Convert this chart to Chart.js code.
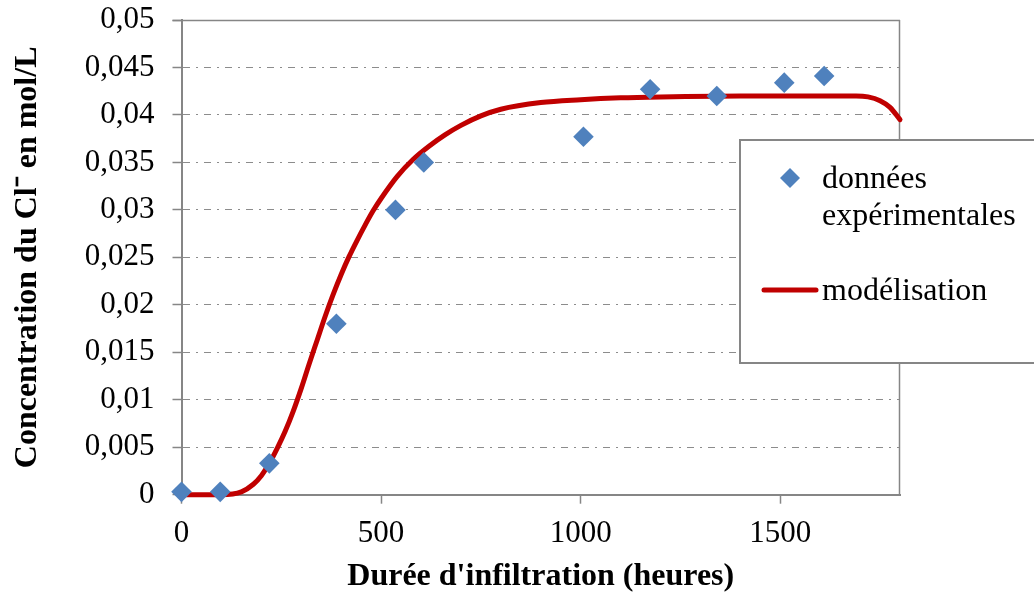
<!DOCTYPE html>
<html>
<head>
<meta charset="utf-8">
<script src="https://cdn.jsdelivr.net/npm/chart.js@4/dist/chart.umd.min.js"></script>
<style>
  html, body { margin: 0; padding: 0; background: #ffffff; }
  #wrap { width: 1034px; height: 594px; }
</style>
</head>
<body>
<div id="wrap"><canvas id="c" width="1034" height="594"></canvas></div>
<script>
// ---- data ----
const seriesNames = ['données expérimentales', 'modélisation'];
const expHours = [0, 97, 220, 388, 536, 607, 1007, 1174, 1341, 1510, 1610];
const expConc  = [0.0003, 0.0003, 0.0033, 0.018, 0.0300, 0.0350, 0.0377, 0.0427, 0.0420, 0.0434, 0.0441];
const modelHours = [0, 50, 100, 150, 180, 200, 220, 240, 260, 280, 300, 320, 340, 360, 380, 400, 420, 440, 460, 480, 500, 540, 580, 620, 660, 700, 750, 800, 900, 1000, 1100, 1200, 1400, 1690, 1720, 1750, 1775, 1800];
const modelConc  = [0, 0, 0.0000, 0.0003, 0.0011, 0.0020, 0.0033, 0.0049, 0.0067, 0.0088, 0.0112, 0.0138, 0.0163, 0.0188, 0.0211, 0.0232, 0.0251, 0.0268, 0.0284, 0.0299, 0.0312, 0.0335, 0.0353, 0.0367, 0.0379, 0.0389, 0.0399, 0.0406, 0.0413, 0.0416, 0.0418, 0.0419, 0.0420, 0.0420, 0.0419, 0.0415, 0.0408, 0.0395];
const xTickValues = [0, 500, 1000, 1500];
const yTickValues = [0, 0.005, 0.01, 0.015, 0.02, 0.025, 0.03, 0.035, 0.04, 0.045, 0.05];
const xTitle = "Durée d'infiltration (heures)";
const yTitle = "Concentration du Cl\u207B en mol/L";

const FONT = "'Liberation Serif', 'Times New Roman', serif";
const AXIS_GRAY = '#868686';
const GRID_GRAY = '#8c8c8c';
const BLUE = '#4F81BD';
const RED = '#C00000';

const expPoints = expHours.map((h, i) => ({ x: h, y: expConc[i] }));
const modelPoints = modelHours.map((h, i) => ({ x: h, y: modelConc[i] }));

const fmt = v => String(parseFloat(Number(v).toFixed(4))).replace('.', ',');

const frameAndLegend = {
  id: 'frameAndLegend',
  beforeDatasetsDraw(chart) {
    const { ctx, chartArea: a } = chart;
    ctx.save();
    ctx.strokeStyle = AXIS_GRAY;
    ctx.lineWidth = 1.5;
    ctx.beginPath();
    ctx.moveTo(a.left, Math.round(a.top) + 0.5);
    ctx.lineTo(a.right, Math.round(a.top) + 0.5);
    ctx.moveTo(Math.round(a.right) - 0.5, a.top);
    ctx.lineTo(Math.round(a.right) - 0.5, a.bottom);
    ctx.stroke();
    ctx.beginPath();
    ctx.moveTo(a.left - 9, Math.round(a.top) + 0.5);
    ctx.lineTo(a.left, Math.round(a.top) + 0.5);
    ctx.stroke();
    ctx.restore();
  },
  afterDraw(chart) {
    const { ctx } = chart;
    const ds = chart.data.datasets;
    ctx.save();
    ctx.fillStyle = '#ffffff';
    ctx.fillRect(740, 140, 310, 223);
    ctx.strokeStyle = AXIS_GRAY;
    ctx.lineWidth = 2;
    ctx.strokeRect(740, 140, 310, 223);
    ctx.fillStyle = ds[0].backgroundColor;
    ctx.beginPath();
    ctx.moveTo(790, 168); ctx.lineTo(800, 178); ctx.lineTo(790, 188); ctx.lineTo(780, 178);
    ctx.closePath();
    ctx.fill();
    ctx.strokeStyle = ds[1].borderColor;
    ctx.lineWidth = 5;
    ctx.lineCap = 'round';
    ctx.beginPath();
    ctx.moveTo(764, 290); ctx.lineTo(816, 290);
    ctx.stroke();
    ctx.fillStyle = '#000000';
    ctx.font = '32px ' + FONT;
    ctx.textBaseline = 'alphabetic';
    ctx.textAlign = 'left';
    const words = ds[0].label.split(' ');
    ctx.fillText(words[0], 822, 188);
    ctx.fillText(words.slice(1).join(' '), 822, 225);
    ctx.fillText(ds[1].label, 822, 300);
    ctx.restore();
  }
};

new Chart(document.getElementById('c'), {
  type: 'scatter',
  data: {
    datasets: [
      {
        label: seriesNames[0],
        data: expPoints,
        pointStyle: 'rectRot',
        pointRadius: 10.3,
        pointHoverRadius: 10.3,
        backgroundColor: BLUE,
        borderColor: BLUE,
        borderWidth: 0,
        clip: false,
        order: 0
      },
      {
        label: seriesNames[1],
        data: modelPoints,
        showLine: true,
        pointRadius: 0,
        borderColor: RED,
        backgroundColor: RED,
        borderWidth: 5,
        cubicInterpolationMode: 'monotone',
        borderCapStyle: 'round',
        clip: false,
        order: 1
      }
    ]
  },
  options: {
    responsive: false,
    animation: false,
    devicePixelRatio: 1,
    layout: { padding: { left: 0, top: 20, right: 134, bottom: 0 } },
    plugins: { legend: { display: false }, tooltip: { enabled: false } },
    scales: {
      x: {
        type: 'linear',
        min: 0, max: 1800,
        afterBuildTicks: s => { s.ticks = xTickValues.map(v => ({ value: v })); },
        afterFit: s => { s.height = 99.3; s.paddingLeft = 0; s.paddingRight = 0; },
        grid: { drawOnChartArea: false, drawTicks: true, tickLength: 9, tickColor: AXIS_GRAY, tickWidth: 1.5 },
        border: { display: true, color: AXIS_GRAY, width: 2 },
        ticks: {
          padding: 12,
          maxRotation: 0,
          color: '#000000',
          font: { family: FONT, size: 31 },
          callback: v => fmt(v)
        },
        title: {
          display: true,
          text: xTitle,
          color: '#000000',
          font: { family: FONT, size: 32, weight: 'bold', lineHeight: 1.0 },
          padding: { top: 0, bottom: 1 }
        }
      },
      y: {
        type: 'linear',
        min: 0, max: 0.05,
        afterBuildTicks: s => { s.ticks = yTickValues.map(v => ({ value: v })); },
        afterFit: s => { s.width = 181.5; s.paddingTop = 0; s.paddingBottom = 0; },
        grid: {
          drawOnChartArea: true,
          drawTicks: true,
          tickLength: 9,
          lineWidth: 1,
          color: c => (c.tick && (c.tick.value === 0 || c.tick.value === 0.05)) ? 'rgba(0,0,0,0)' : GRID_GRAY,
          tickColor: AXIS_GRAY,
          tickWidth: 1.5,
          tickBorderDash: []
        },
        border: { display: true, color: AXIS_GRAY, width: 2, dash: [7, 6, 2, 6] },
        ticks: {
          padding: 18,
          color: '#000000',
          font: { family: FONT, size: 31 },
          callback: v => fmt(v)
        },
        title: {
          display: true,
          text: yTitle,
          color: '#000000',
          font: { family: FONT, size: 32, weight: 'bold', lineHeight: 1.0 },
          padding: { top: 12, bottom: 0 }
        }
      }
    }
  },
  plugins: [frameAndLegend]
});
</script>
</body>
</html>
